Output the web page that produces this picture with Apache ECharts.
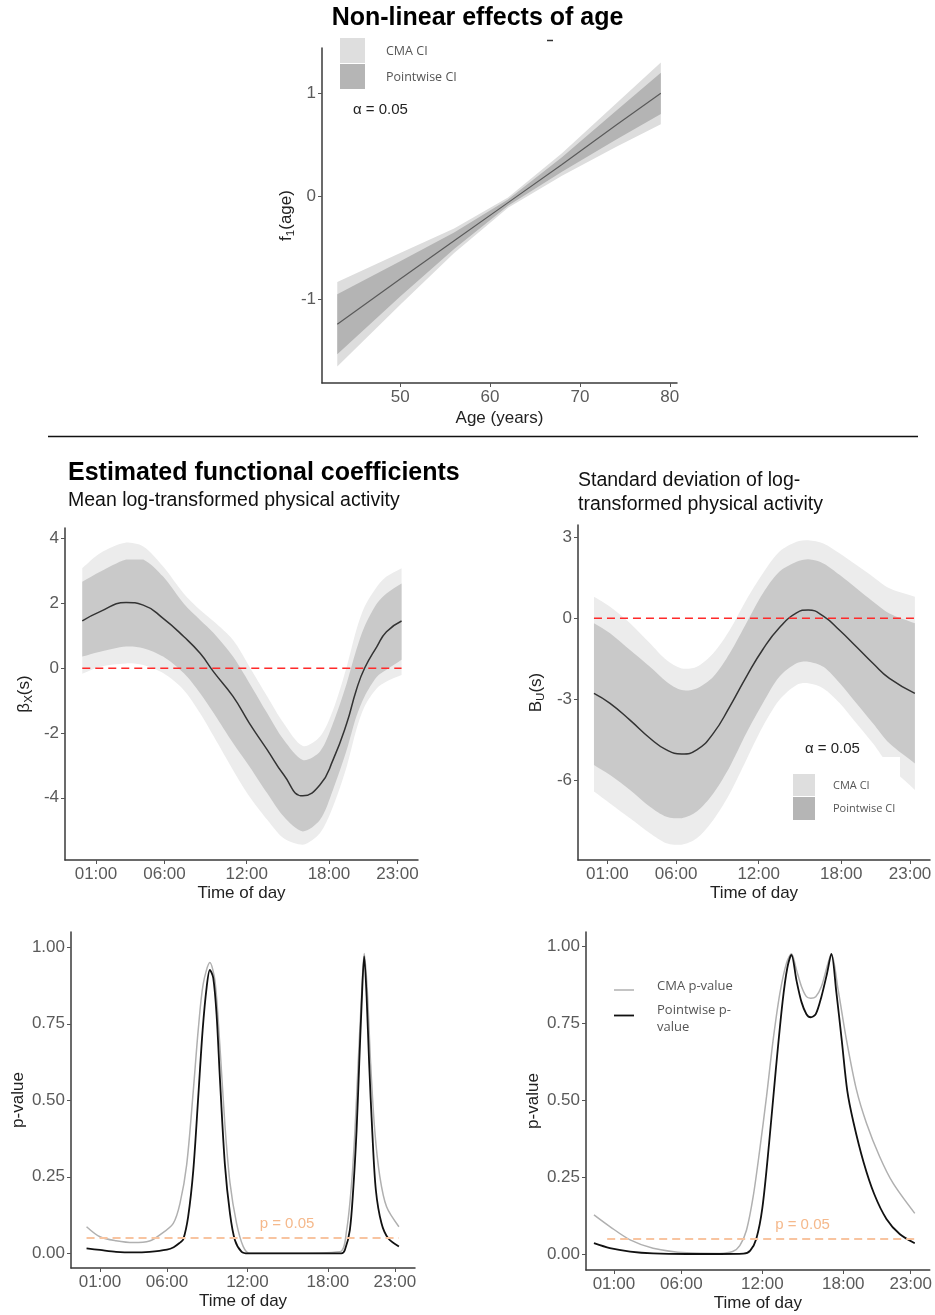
<!DOCTYPE html>
<html>
<head>
<meta charset="utf-8">
<script src="https://cdn.jsdelivr.net/npm/echarts@6/dist/echarts.min.js"></script>
<style>
  html, body { margin: 0; padding: 0; background: #fff; }
  #chart { width: 935px; height: 1315px; }
</style>
</head>
<body>
<div id="chart"></div>
<script>
const FONT = "'Liberation Sans', Arial, sans-serif";
const LEG_FONT = "'Open Sans', sans-serif";

// ---- top panel: f1(age) ----
const ageX = [43, 50, 56, 62, 68, 74, 79];
const ageFit = [-1.24, -0.80, -0.43, -0.06, 0.31, 0.69, 1.00];
const agePwLow = [-1.53, -0.97, -0.51, -0.09, 0.24, 0.55, 0.80];
const agePwUp = [-0.95, -0.63, -0.35, -0.03, 0.38, 0.83, 1.20];
const ageCmaLow = [-1.65, -1.05, -0.55, -0.11, 0.20, 0.48, 0.70];
const ageCmaUp = [-0.83, -0.55, -0.31, -0.01, 0.42, 0.90, 1.30];
const ageTicks = [50, 60, 70, 80];
const ageYTicks = [-1, 0, 1];

// ---- beta_X(s) ----
const hoursX = [0, 1.3, 3.2, 4.45, 5.9, 7.4, 8.6, 9.6, 11, 12.2, 13.5, 14.7, 16.1, 17.35, 18.3, 19.3, 20.0, 20.6, 21.5, 22.2, 23.3];
const betaX = [1.46, 1.75, 2.03, 1.95, 1.54, 0.98, 0.46, -0.12, -0.87, -1.70, -2.52, -3.29, -3.94, -3.60, -2.83, -1.70, -0.67, 0, 0.67, 1.13, 1.46];
const betaXPwUp = [2.67, 2.98, 3.36, 3.36, 2.83, 2.00, 1.49, 1.08, 0.36, -0.46, -1.39, -2.21, -2.83, -2.57, -1.70, -0.46, 0.57, 1.29, 2.00, 2.31, 2.62];
const betaXPwLow = [0.36, 0.51, 0.67, 0.62, 0.36, -0.15, -0.77, -1.39, -2.31, -3.03, -3.86, -4.58, -5.04, -4.68, -3.75, -2.52, -1.49, -0.87, -0.26, -0.05, 0.26];
const betaXCmaUp = [3.09, 3.55, 3.88, 3.76, 3.14, 2.31, 1.80, 1.44, 0.87, 0.05, -0.87, -1.70, -2.40, -2.11, -1.29, 0.05, 1.18, 1.90, 2.52, 2.83, 3.09];
const betaXCmaLow = [-0.17, 0.05, 0.15, 0.10, -0.15, -0.67, -1.39, -2.11, -3.14, -3.96, -4.68, -5.25, -5.45, -5.09, -4.27, -3.03, -1.90, -1.18, -0.62, -0.41, -0.21];
const betaXTicks = [-4, -2, 0, 2, 4];

// ---- B_U(s) ----
const hoursU = [0.03, 1.2, 2.65, 4.1, 5.3, 6.4, 7.5, 8.7, 9.9, 11.1, 12.3, 13.5, 14.75, 15.6, 16.7, 17.9, 19.1, 20.3, 21.5, 23.35];
const betaU = [-2.77, -3.14, -3.76, -4.43, -4.86, -5.01, -4.86, -4.25, -3.26, -2.16, -1.15, -0.35, 0.2, 0.31, 0.08, -0.45, -1.05, -1.66, -2.22, -2.77];
const betaUPwUp = [-0.18, -0.55, -1.17, -1.79, -2.34, -2.65, -2.59, -2.16, -1.29, -0.18, 0.92, 1.72, 2.09, 2.18, 2.03, 1.60, 1.11, 0.62, 0.18, -0.18];
const betaUPwLow = [-5.42, -5.79, -6.34, -6.96, -7.33, -7.39, -7.14, -6.47, -5.48, -4.25, -3.14, -2.16, -1.66, -1.60, -1.79, -2.40, -3.14, -3.88, -4.62, -5.36];
const betaUCmaUp = [0.80, 0.43, -0.18, -0.92, -1.54, -1.85, -1.79, -1.29, -0.43, 0.68, 1.66, 2.46, 2.83, 2.89, 2.77, 2.40, 1.97, 1.54, 1.11, 0.80];
const betaUCmaLow = [-6.40, -6.84, -7.39, -7.94, -8.31, -8.37, -8.13, -7.45, -6.47, -5.23, -4.00, -3.02, -2.46, -2.40, -2.59, -3.14, -3.88, -4.62, -5.45, -6.34];
const betaUTicks = [-6, -3, 0, 3];

// ---- p-values, mean (left) ----
const pHoursPwL = [0, 1, 2.2, 3.5, 4.7, 6.0, 6.5, 6.97, 7.21, 7.58, 7.96, 8.33, 8.66, 8.96, 9.2, 9.45, 9.7, 9.95, 10.32, 10.7, 11.07, 11.57, 12.06, 15, 19.0, 19.27, 19.64, 19.89, 20.14, 20.34, 20.51, 20.71, 20.89, 21.08, 21.31, 21.58, 22.0, 22.5, 23.3];
const pPwL = [0.016, 0.011, 0.005, 0.003, 0.005, 0.012, 0.02, 0.035, 0.045, 0.12, 0.27, 0.51, 0.73, 0.87, 0.926, 0.90, 0.78, 0.57, 0.29, 0.13, 0.043, 0.005, 0, 0, 0, 0.011, 0.076, 0.207, 0.40, 0.62, 0.806, 0.97, 0.84, 0.62, 0.40, 0.207, 0.098, 0.049, 0.022];
const pHoursCmaL = [0, 1, 2.2, 3.5, 4.7, 5.47, 6.47, 6.97, 7.47, 7.96, 8.33, 8.7, 9.2, 9.58, 9.95, 10.32, 10.7, 11.19, 11.69, 12.18, 15, 18.9, 19.4, 19.77, 20.02, 20.26, 20.51, 20.71, 20.94, 21.19, 21.5, 21.88, 22.38, 23.3];
const pCmaL = [0.087, 0.054, 0.041, 0.035, 0.04, 0.06, 0.098, 0.163, 0.29, 0.53, 0.73, 0.88, 0.95, 0.89, 0.675, 0.42, 0.23, 0.098, 0.022, 0, 0, 0.005, 0.076, 0.229, 0.40, 0.62, 0.84, 0.98, 0.86, 0.62, 0.40, 0.25, 0.152, 0.087];

// ---- p-values, sd (right) ----
const pHoursPwR = [-0.48, 0.7, 2.2, 3.9, 6.4, 8.85, 10.6, 11.1, 11.55, 12.0, 12.5, 13.0, 13.5, 13.85, 14.16, 14.53, 14.9, 15.27, 15.59, 15.96, 16.38, 16.8, 17.12, 17.49, 17.9, 18.3, 18.75, 19.5, 20.3, 21.2, 22.2, 23.3];
const pPwR = [0.036, 0.02, 0.009, 0.003, 0.001, 0.001, 0.002, 0.012, 0.05, 0.15, 0.36, 0.60, 0.82, 0.93, 0.973, 0.89, 0.82, 0.78, 0.77, 0.78, 0.837, 0.913, 0.976, 0.85, 0.69, 0.53, 0.43, 0.30, 0.195, 0.115, 0.065, 0.036];
const pHoursCmaR = [-0.48, 0.7, 2.2, 3.9, 6.4, 8.85, 9.8, 10.33, 10.83, 11.32, 11.81, 12.31, 12.8, 13.3, 13.79, 14.16, 14.53, 14.9, 15.27, 15.59, 15.96, 16.38, 16.8, 17.12, 17.62, 18.24, 18.98, 19.72, 20.7, 21.69, 23.3];
const pCmaR = [0.128, 0.09, 0.047, 0.02, 0.005, 0.003, 0.009, 0.028, 0.079, 0.187, 0.34, 0.512, 0.696, 0.848, 0.946, 0.976, 0.924, 0.87, 0.837, 0.832, 0.837, 0.87, 0.935, 0.976, 0.859, 0.696, 0.534, 0.426, 0.317, 0.231, 0.133];

const pTicks = [0, 0.25, 0.5, 0.75, 1];
const hourTicks = [1, 6, 12, 18, 23];
const hourLabels = ['01:00', '06:00', '12:00', '18:00', '23:00'];

// reference lines
const zeroLevel = 0;
const alphaLevel = 0.05;
const refSpanX = [0, 23.3];
const refSpanU = [0.03, 23.35];
const refSpanPL = [0, 23.3];
const refSpanPR = [0.5, 23.3];

const chart = echarts.init(document.getElementById('chart'));

function merge(a, b) {
  const out = Object.assign({}, a);
  Object.keys(b || {}).forEach(k => {
    if (b[k] && typeof b[k] === 'object' && !Array.isArray(b[k]) && a[k] && typeof a[k] === 'object') {
      out[k] = merge(a[k], b[k]);
    } else {
      out[k] = b[k];
    }
  });
  return out;
}

const baseAxis = {
  type: 'value',
  axisLine: { show: true, onZero: false, lineStyle: { color: '#3a3a3a', width: 1.5 } },
  axisTick: { show: true, length: 4, lineStyle: { color: '#555' } },
  axisLabel: { color: '#5a5a5a', fontSize: 17, fontFamily: FONT, margin: 6, showMinLabel: true, showMaxLabel: true },
  splitLine: { show: false },
  nameLocation: 'middle',
  nameTextStyle: {
    color: '#222', fontSize: 17, fontFamily: FONT,
    rich: {
      m: { fontSize: 17, color: '#222', fontFamily: FONT },
      s: { fontSize: 11.5, color: '#222', fontFamily: FONT, padding: [9, 0, 0, 0] }
    }
  }
};

function hourAxis(idx, min, max) {
  return merge(baseAxis, {
    gridIndex: idx, min, max, name: 'Time of day', nameGap: 25,
    axisTick: { customValues: hourTicks },
    axisLabel: { customValues: hourTicks, formatter: v => hourLabels[hourTicks.indexOf(v)] }
  });
}

function valAxis(idx, min, max, ticks, name, gap, fmt) {
  return merge(baseAxis, {
    gridIndex: idx, min, max, name, nameGap: gap,
    axisTick: { customValues: ticks },
    axisLabel: { customValues: ticks, formatter: fmt || (v => String(v)) }
  });
}

// confidence band: one closed polygon through the upper edge and back along the lower edge.
// End vertices are doubled so the smoothing keeps the vertical ends square.
function band(idx, xs, lo, hi, color, smooth) {
  return {
    type: 'custom', xAxisIndex: idx, yAxisIndex: idx, z: 1, silent: true,
    data: xs.map((x, i) => [x, lo[i], hi[i]]),
    encode: { x: 0, y: [1, 2] },
    renderItem: function (params, api) {
      if (params.dataIndexInside !== 0) return null;
      const n = params.dataInsideLength;
      const upper = [], lower = [];
      for (let i = 0; i < n; i++) {
        const reps = (i === 0 || i === n - 1) ? 2 : 1;
        for (let r = 0; r < reps; r++) {
          upper.push(api.coord([api.value(0, i), api.value(2, i)]));
          lower.unshift(api.coord([api.value(0, i), api.value(1, i)]));
        }
      }
      return {
        type: 'polygon',
        shape: {
          points: upper.concat(lower),
          smooth: smooth,
          smoothConstraint: [[Infinity, Infinity], [-Infinity, -Infinity]]
        },
        style: { fill: color },
        silent: true
      };
    }
  };
}

function curve(idx, xs, ys, color, width, smooth) {
  return {
    type: 'line', xAxisIndex: idx, yAxisIndex: idx, z: 3, silent: true,
    data: xs.map((x, i) => [x, ys[i]]),
    showSymbol: false, smooth: smooth,
    lineStyle: { color, width }
  };
}

function refLine(idx, span, level, color, width) {
  return {
    type: 'line', xAxisIndex: idx, yAxisIndex: idx, z: 4, silent: true,
    data: span.map(x => [x, level]),
    showSymbol: false,
    lineStyle: { color, width, type: [8, 5] }
  };
}

const CMA_TOP = '#dddddd', PW_TOP = '#b4b4b4';
const CMA_MID = '#ececec', PW_MID = '#c9c9c9';

const option = {
  animation: false,
  backgroundColor: '#fff',
  grid: [
    { left: 322, top: 48, width: 355, height: 335 },
    { left: 65, top: 528, width: 353, height: 332 },
    { left: 578, top: 525, width: 352, height: 335 },
    { left: 71, top: 932, width: 344, height: 336 },
    { left: 586, top: 932, width: 344, height: 338 }
  ],
  xAxis: [
    valAxis(0, 41.3, 80.8, ageTicks, 'Age (years)', 27),
    hourAxis(1, -1.26, 24.5),
    hourAxis(2, -1.13, 24.45),
    hourAxis(3, -1.16, 24.5),
    hourAxis(4, -1.07, 24.41)
  ],
  yAxis: [
    valAxis(0, -1.81, 1.44, ageYTicks, '{m|f}{s|1}{m|(age)}', 24),
    valAxis(1, -5.92, 4.33, betaXTicks, '{m|β}{s|X}{m|(s)}', 30),
    valAxis(2, -8.93, 3.45, betaUTicks, '{m|B}{s|U}{m|(s)}', 31),
    valAxis(3, -0.048, 1.05, pTicks, 'p-value', 44, v => v.toFixed(2)),
    valAxis(4, -0.051, 1.047, pTicks, 'p-value', 44, v => v.toFixed(2))
  ],
  series: [
    band(0, ageX, ageCmaLow, ageCmaUp, CMA_TOP, 0),
    band(0, ageX, agePwLow, agePwUp, PW_TOP, 0),
    curve(0, ageX, ageFit, '#5a5a5a', 1.2, false),

    band(1, hoursX, betaXCmaLow, betaXCmaUp, CMA_MID, 0.3),
    band(1, hoursX, betaXPwLow, betaXPwUp, PW_MID, 0.3),
    refLine(1, refSpanX, zeroLevel, '#ff2a2a', 1.5),
    curve(1, hoursX, betaX, '#333', 1.5, 0.5),

    band(2, hoursU, betaUCmaLow, betaUCmaUp, CMA_MID, 0.3),
    band(2, hoursU, betaUPwLow, betaUPwUp, PW_MID, 0.3),
    refLine(2, refSpanU, zeroLevel, '#ff2a2a', 1.5),
    curve(2, hoursU, betaU, '#333', 1.5, 0.5),

    refLine(3, refSpanPL, alphaLevel, '#f8c4a0', 2),
    curve(3, pHoursCmaL, pCmaL, '#b0b0b0', 1.5, 0.3),
    curve(3, pHoursPwL, pPwL, '#111', 1.8, 0.3),

    refLine(4, refSpanPR, alphaLevel, '#f8c4a0', 2),
    curve(4, pHoursCmaR, pCmaR, '#b0b0b0', 1.5, 0.3),
    curve(4, pHoursPwR, pPwR, '#111', 1.8, 0.3)
  ],
  graphic: [
    { type: 'text', z: 100, x: 477.5, y: 18, style: { text: 'Non-linear effects of age', font: 'bold 25px ' + FONT, fill: '#000', align: 'center', verticalAlign: 'middle' } },
    { type: 'line', z: 100, shape: { x1: 547, y1: 40.5, x2: 553, y2: 40.5 }, style: { stroke: '#333', lineWidth: 1.5 } },
    { type: 'line', z: 100, shape: { x1: 48, y1: 436.5, x2: 918, y2: 436.5 }, style: { stroke: '#111', lineWidth: 1.5 } },

    // top legend
    { type: 'rect', z: 100, shape: { x: 340, y: 38, width: 25, height: 25 }, style: { fill: '#dedede' } },
    { type: 'rect', z: 100, shape: { x: 340, y: 64, width: 25, height: 25 }, style: { fill: '#b5b5b5' } },
    { type: 'text', z: 100, x: 386, y: 51, style: { text: 'CMA CI', font: '12.5px ' + LEG_FONT, fill: '#555', verticalAlign: 'middle' } },
    { type: 'text', z: 100, x: 386, y: 77.5, style: { text: 'Pointwise CI', font: '12.5px ' + LEG_FONT, fill: '#555', verticalAlign: 'middle' } },
    { type: 'text', z: 100, x: 353, y: 110, style: { text: 'α = 0.05', font: '15px ' + FONT, fill: '#222', verticalAlign: 'middle' } },

    { type: 'text', z: 100, x: 68, y: 473, style: { text: 'Estimated functional coefficients', font: 'bold 25px ' + FONT, fill: '#000', verticalAlign: 'middle' } },
    { type: 'text', z: 100, x: 68, y: 500.5, style: { text: 'Mean log-transformed physical activity', font: '19.5px ' + FONT, fill: '#111', verticalAlign: 'middle' } },
    { type: 'text', z: 100, x: 578, y: 480.5, style: { text: 'Standard deviation of log-', font: '19.5px ' + FONT, fill: '#111', verticalAlign: 'middle' } },
    { type: 'text', z: 100, x: 578, y: 504.5, style: { text: 'transformed physical activity', font: '19.5px ' + FONT, fill: '#111', verticalAlign: 'middle' } },

    // mid-right legend with its white background
    { type: 'rect', z: 100, shape: { x: 786, y: 757, width: 114, height: 73 }, style: { fill: '#fff' } },
    { type: 'text', z: 101, x: 805, y: 749, style: { text: 'α = 0.05', font: '15px ' + FONT, fill: '#222', verticalAlign: 'middle' } },
    { type: 'rect', z: 101, shape: { x: 793, y: 774, width: 22, height: 22 }, style: { fill: '#dedede' } },
    { type: 'rect', z: 101, shape: { x: 793, y: 797, width: 22, height: 23 }, style: { fill: '#b5b5b5' } },
    { type: 'text', z: 101, x: 833, y: 786, style: { text: 'CMA CI', font: '11px ' + LEG_FONT, fill: '#555', verticalAlign: 'middle' } },
    { type: 'text', z: 101, x: 833, y: 809, style: { text: 'Pointwise CI', font: '11px ' + LEG_FONT, fill: '#555', verticalAlign: 'middle' } },

    // bottom-right legend
    { type: 'line', z: 100, shape: { x1: 614, y1: 990, x2: 634, y2: 990 }, style: { stroke: '#b0b0b0', lineWidth: 1.5 } },
    { type: 'line', z: 100, shape: { x1: 614, y1: 1015.5, x2: 634, y2: 1015.5 }, style: { stroke: '#111', lineWidth: 1.8 } },
    { type: 'text', z: 100, x: 657, y: 986, style: { text: 'CMA p-value', font: '13px ' + LEG_FONT, fill: '#555', verticalAlign: 'middle' } },
    { type: 'text', z: 100, x: 657, y: 1002, style: { text: 'Pointwise p-\nvalue', font: '13px ' + LEG_FONT, fill: '#555', verticalAlign: 'top', lineHeight: 16.6 } },

    { type: 'text', z: 100, x: 287, y: 1224, style: { text: 'p = 0.05', font: '15px ' + FONT, fill: '#f5b98c', align: 'center', verticalAlign: 'middle' } },
    { type: 'text', z: 100, x: 802.5, y: 1225, style: { text: 'p = 0.05', font: '15px ' + FONT, fill: '#f5b98c', align: 'center', verticalAlign: 'middle' } }
  ]
};

chart.setOption(option);
</script>
</body>
</html>
